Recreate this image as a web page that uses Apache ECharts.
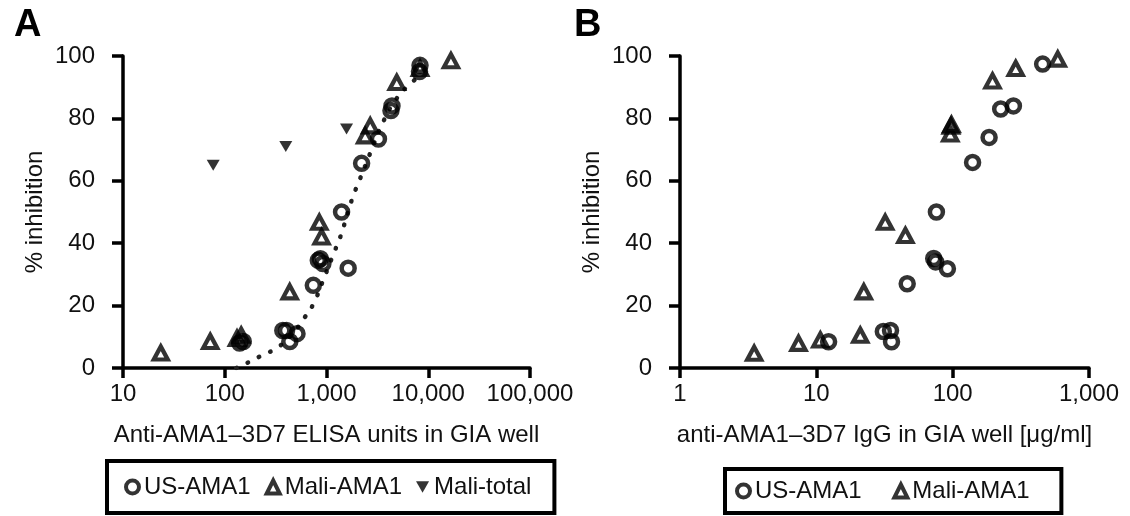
<!DOCTYPE html>
<html>
<head>
<meta charset="utf-8">
<script src="https://cdn.jsdelivr.net/npm/echarts@6/dist/echarts.min.js"></script>
<style>
html,body{margin:0;padding:0;background:#fff;}
#chart{width:1130px;height:516px;}
</style>
</head>
<body>
<div id="chart"></div>
<script>
// ---- Panel A data: [ELISA units, % inhibition]
const usAma1A = [[140,8],[152,8.5],[372,12],[405,12],[436,8.5],[513,11],[742,26.5],[830,34.5],[870,35],[922,33.5],[1406,50],[1633,32],[2213,65.6],[3240,73.4],[4300,82.5],[4400,84],[8200,95],[8300,97]];
const maliAma1A = [[23.5,4.8],[72,8.5],[132,9.5],[145,10.5],[435,24.4],[850,46.7],[894,42],[2400,74.4],[2690,77.6],[4900,91.5],[8300,96],[16700,98.5]];
const maliTotalA = [[77,65],[398,71],[1574,76.6]];
const fitCurveA = [[130,0],[183,2.3],[237,4.2],[324,6.4],[450,10.5],[616,16.4],[742,20.5],[950,29],[1200,37.4],[1350,41.5],[1820,55],[2040,59],[2700,69],[3500,78],[4800,86],[6840,91.5],[8000,93]];

// ---- Panel B data: [IgG ug/ml, % inhibition]
const usAma1B = [[12.3,8.4],[31,11.7],[35,12],[35.6,8.4],[46.4,27],[72.6,35.1],[75,34],[91.5,31.8],[76,50],[140,65.9],[185,73.9],[225,83],[279,84],[457,97.4]];
const maliAma1B = [[3.5,4.7],[7.4,7.9],[10.7,9],[21,10.5],[22.3,24.4],[32,46.7],[45,42.5],[96,75],[97,77.5],[98,78],[196,92],[290,96],[590,99]];

// ---- Axis labels / texts
const yTicks = [0,20,40,60,80,100];
const xTitleA = 'Anti-AMA1\u20133D7 ELISA units in GIA well';
const xTitleB = 'anti-AMA1\u20133D7 IgG in GIA well [\u03bcg/ml]';
const yTitle = '% inhibition';
const legendNamesA = ['US-AMA1','Mali-AMA1','Mali-total'];
const legendNamesB = ['US-AMA1','Mali-AMA1'];

const FONT = "'Liberation Sans', Arial, Helvetica, sans-serif";
const downTri = 'path://M0,0 L10,0 L5,9 Z';

const chart = echarts.init(document.getElementById('chart'), null, {renderer:'canvas'});

function yAxis(gridIndex){
  return {
    type:'value', gridIndex, min:yTicks[0], max:yTicks[yTicks.length-1], interval:20,
    name:yTitle, nameLocation:'middle', nameGap:76, nameRotate:90,
    nameTextStyle:{fontSize:24, color:'#111', fontFamily:FONT},
    axisLine:{show:true, lineStyle:{color:'#000', width:3.5}},
    axisTick:{show:true, length:11, lineStyle:{color:'#000', width:3.5}},
    axisLabel:{fontSize:24, color:'#111', fontFamily:FONT, margin:28},
    splitLine:{show:false}
  };
}
function xAxis(gridIndex, min, max, title){
  return {
    type:'log', logBase:10, gridIndex, min, max,
    name:title, nameLocation:'middle', nameGap:55,
    nameTextStyle:{fontSize:24, color:'#111', fontFamily:FONT},
    axisLine:{show:true, onZero:false, lineStyle:{color:'#000', width:3.5}},
    axisTick:{show:true, length:10, lineStyle:{color:'#000', width:3.5}},
    axisLabel:{fontSize:24, color:'#111', fontFamily:FONT, margin:14,
      formatter:v=>Math.round(v).toLocaleString('en-US')},
    splitLine:{show:false}
  };
}
const circleStyle = {color:'rgba(255,255,255,0)', borderColor:'#000', borderWidth:4.5};
const triStyle = {color:'rgba(255,255,255,0)', borderColor:'#000', borderWidth:4.2};

const option = {
  animation:false,
  backgroundColor:'#fff',
  textStyle:{fontFamily:FONT},
  title:[
    {text:'A', left:9, top:2, textStyle:{fontSize:38, fontWeight:'bold', color:'#000', fontFamily:FONT}},
    {text:'B', left:569, top:2, textStyle:{fontSize:38, fontWeight:'bold', color:'#000', fontFamily:FONT}}
  ],
  grid:[
    {left:123, top:56, width:407, height:312},
    {left:680, top:56, width:409, height:312}
  ],
  xAxis:[xAxis(0,10,100000,xTitleA), xAxis(1,1,1000,xTitleB)],
  yAxis:[yAxis(0), yAxis(1)],
  legend:[
    {data:legendNamesA.map(n=>({name:n})), left:107, top:461, orient:'horizontal',
     padding:[14,23,14,17], itemGap:14, itemWidth:13, itemHeight:13,
     itemStyle:{borderWidth:4},
     borderColor:'#000', borderWidth:4, borderRadius:0,
     textStyle:{fontSize:24, color:'#111', fontFamily:FONT},
     selectedMode:false},
    {data:legendNamesB.map(n=>({name:n+' '})), left:725, top:469, orient:'horizontal',
     padding:[10,25,10,10], itemGap:24, itemWidth:13, itemHeight:13,
     itemStyle:{borderWidth:4},
     borderColor:'#000', borderWidth:4, borderRadius:0,
     textStyle:{fontSize:24, color:'#111', fontFamily:FONT},
     selectedMode:false}
  ],
  series:[
    {name:'fitA', type:'line', xAxisIndex:0, yAxisIndex:0, data:fitCurveA, smooth:true, showSymbol:false,
     lineStyle:{color:'#222', width:4.5, type:[0.5,12], cap:'round'}, z:1, silent:true},
    {name:'US-AMA1', type:'scatter', xAxisIndex:0, yAxisIndex:0, data:usAma1A, symbol:'circle', symbolSize:13,
     itemStyle:circleStyle, z:3},
    {name:'Mali-AMA1', type:'scatter', xAxisIndex:0, yAxisIndex:0, data:maliAma1A, symbol:'triangle', symbolSize:[14,13],
     itemStyle:triStyle, z:3},
    {name:'Mali-total', type:'scatter', xAxisIndex:0, yAxisIndex:0, data:maliTotalA, symbol:downTri, symbolSize:[13,11],
     itemStyle:{color:'#000'}, z:3},
    {name:'US-AMA1 ', type:'scatter', xAxisIndex:1, yAxisIndex:1, data:usAma1B, symbol:'circle', symbolSize:13,
     itemStyle:circleStyle, z:3},
    {name:'Mali-AMA1 ', type:'scatter', xAxisIndex:1, yAxisIndex:1, data:maliAma1B, symbol:'triangle', symbolSize:[14,13],
     itemStyle:triStyle, z:3}
  ]
};
chart.setOption(option);
</script>
</body>
</html>
